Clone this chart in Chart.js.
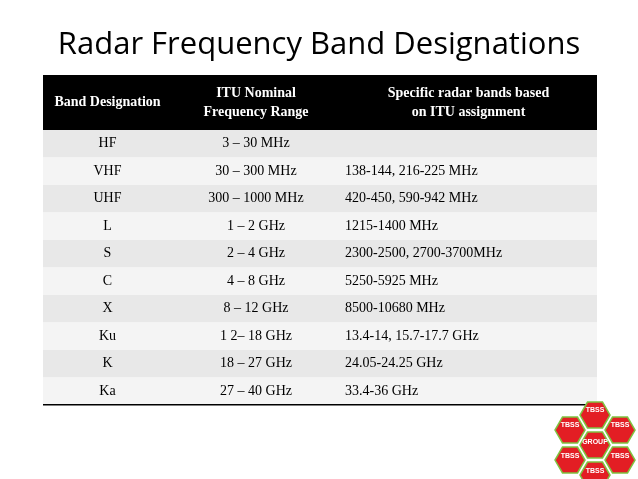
<!DOCTYPE html>
<html><head><meta charset="utf-8">
<script src="https://cdn.jsdelivr.net/npm/chart.js@4/dist/chart.umd.min.js"></script>
<style>html,body{margin:0;padding:0;background:#fff;overflow:hidden}</style>
</head><body>
<canvas id="c" width="638" height="479"></canvas>
<script>
const title = "Radar Frequency Band Designations";
const headers = [["Band Designation"],["ITU Nominal","Frequency Range"],["Specific radar bands based","on ITU assignment"]];
const bands = ["HF","VHF","UHF","L","S","C","X","Ku","K","Ka"];
const ranges = ["3 – 30 MHz","30 – 300 MHz","300 – 1000 MHz","1 – 2 GHz","2 – 4 GHz","4 – 8 GHz","8 – 12 GHz","1 2– 18 GHz","18 – 27 GHz","27 – 40 GHz"];
const specific = ["","138-144, 216-225 MHz","420-450, 590-942 MHz","1215-1400 MHz","2300-2500, 2700-3700MHz","5250-5925 MHz","8500-10680 MHz","13.4-14, 15.7-17.7 GHz","24.05-24.25 GHz","33.4-36 GHz"];

const tablePlugin = {
  id:'table',
  afterDraw(chart){
    const ctx = chart.ctx;
    ctx.save();
    ctx.fillStyle='#fff';ctx.fillRect(0,0,638,479);
    ctx.fillStyle='#000';ctx.textAlign='center';ctx.textBaseline='middle';
    ctx.font='31px "Open Sans", "Noto Sans", sans-serif';
    ctx.fillText(title,319,45);
    const x0=43,x1=172,x2=340,x3=597,hy=75,hh=55,rh=27.5;
    ctx.fillStyle='#000';ctx.fillRect(x0,hy,x3-x0,hh);
    ctx.fillStyle='#fff';ctx.font='bold 14px "Liberation Serif", serif';
    const cx=[(x0+x1)/2,(x1+x2)/2,(x2+x3)/2];
    headers.forEach((h,i)=>{
      h.forEach((t,j)=>ctx.fillText(t,cx[i],hy+hh/2+(j-(h.length-1)/2)*19));
    });
    ctx.font='14px "Liberation Serif", serif';
    bands.forEach((b,i)=>{
      const y=hy+hh+i*rh;
      ctx.fillStyle= i%2===0?'#e8e8e8':'#f4f4f4';
      ctx.fillRect(x0,y,x3-x0,rh);
      ctx.fillStyle='#000';ctx.textAlign='center';
      ctx.fillText(b,cx[0],y+rh/2);
      ctx.fillText(ranges[i],cx[1],y+rh/2);
      ctx.textAlign='left';
      ctx.fillText(specific[i],x2+5,y+rh/2);
    });
    ctx.fillStyle='#000';ctx.fillRect(x0,hy+hh+bands.length*rh-1,x3-x0,1.5);
    // logo
    const hex=(x,y,r,c)=>{ctx.beginPath();for(let k=0;k<6;k++){const a=Math.PI/3*k;ctx.lineTo(x+r*Math.cos(a),y+r*Math.sin(a));}ctx.closePath();ctx.fillStyle=c;ctx.fill();ctx.strokeStyle='#7fc241';ctx.lineWidth=1.5;ctx.stroke();};
    const pts=[[595,415],[570,430],[620,430],[595,445],[570,460],[620,460],[595,475]];
    pts.forEach(p=>hex(p[0],p[1],15,'#e31e24'));
    ctx.fillStyle='#fff';ctx.font='bold 7px sans-serif';ctx.textAlign='center';
    ctx.fillText('TBSS',595,410);ctx.fillText('TBSS',570,425);ctx.fillText('TBSS',620,425);
    ctx.fillText('GROUP',595,442);ctx.fillText('TBSS',570,456);ctx.fillText('TBSS',620,456);ctx.fillText('TBSS',595,471);
    ctx.restore();
  }
};
new Chart(document.getElementById('c'),{
  type:'bar',
  data:{labels:bands,datasets:[{data:bands.map(()=>0),backgroundColor:'rgba(0,0,0,0)'}]},
  options:{responsive:false,animation:false,events:[],
    plugins:{legend:{display:false},tooltip:{enabled:false}},
    scales:{x:{display:false},y:{display:false}}},
  plugins:[tablePlugin]
});
</script>
</body></html>
